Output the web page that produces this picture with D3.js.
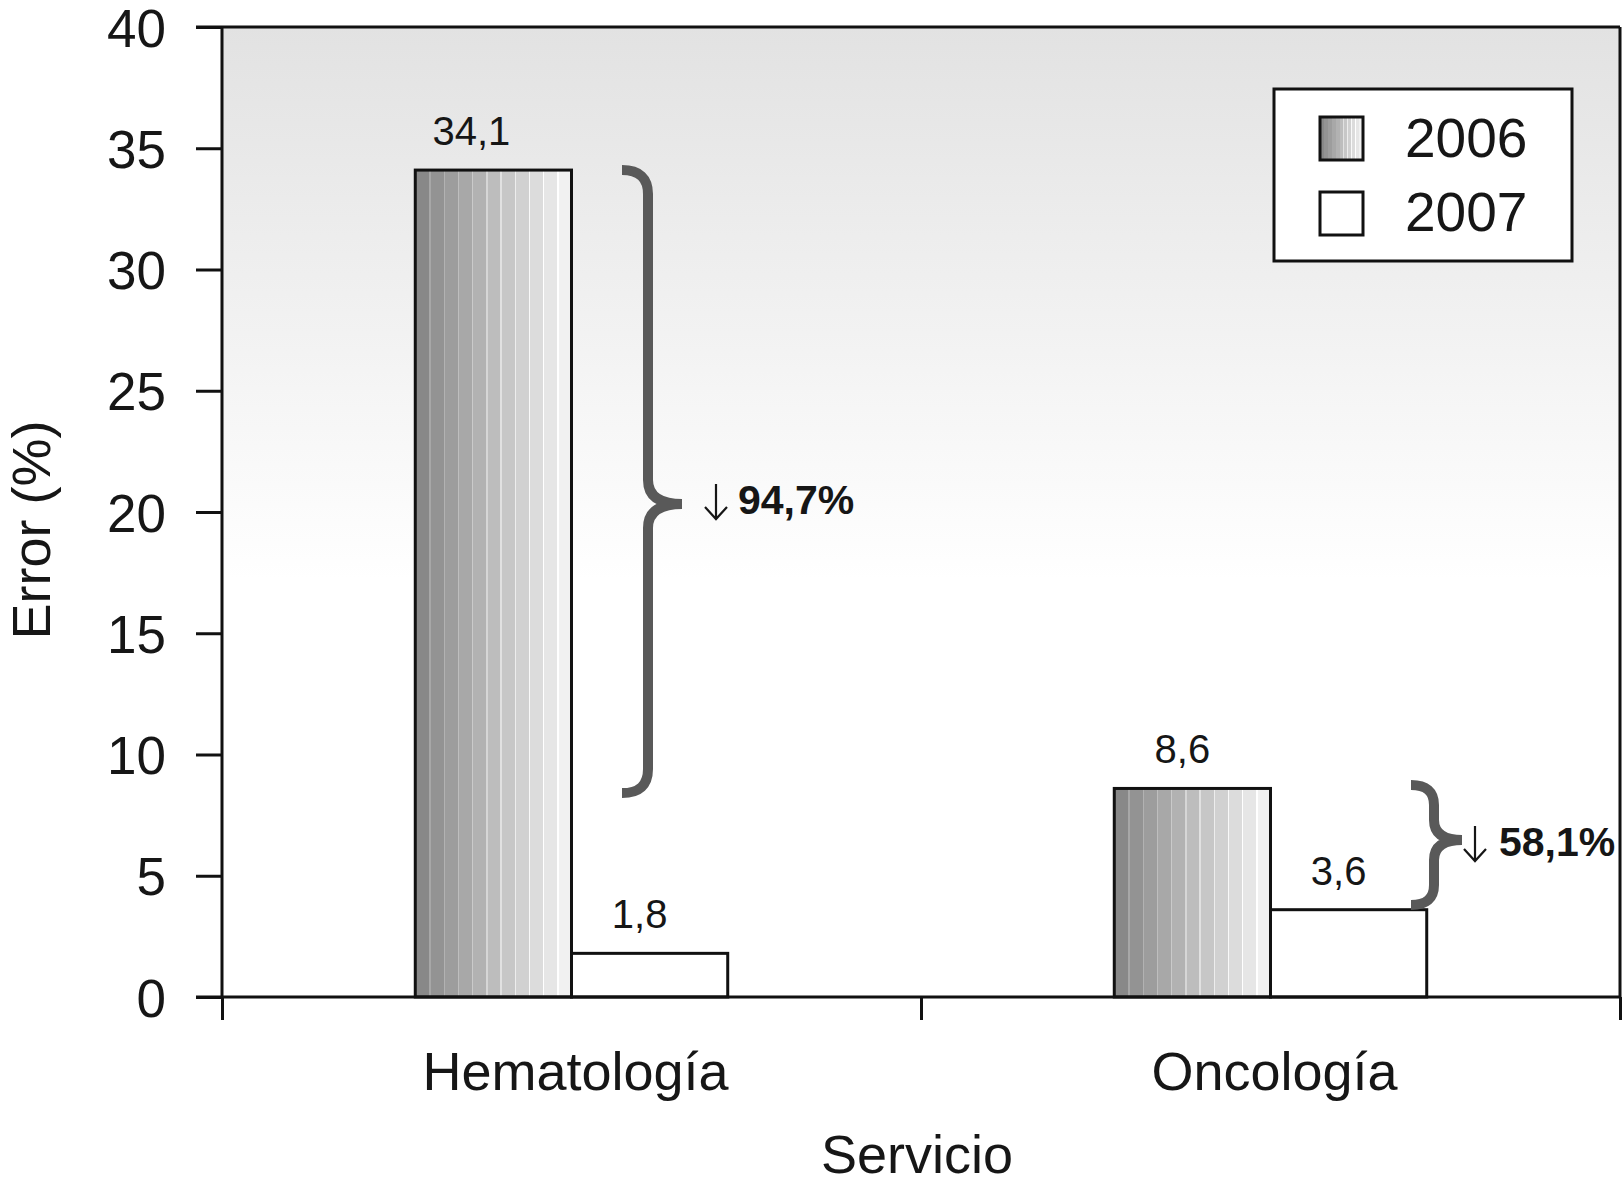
<!DOCTYPE html>
<html>
<head>
<meta charset="utf-8">
<script src="https://cdn.jsdelivr.net/npm/d3@7"></script>
<style>
  html, body { margin: 0; padding: 0; background: #ffffff; }
  svg { display: block; }
  text { font-family: "Liberation Sans", Arial, Helvetica, sans-serif; fill: #161616; }
</style>
</head>
<body>
<svg id="chart" width="1624" height="1192"></svg>
<script>
// ---- data ----
const categories = ["Hematología", "Oncología"];
const years = ["2006", "2007"];
const values2006 = [34.1, 8.6];
const values2007 = [1.8, 3.6];
const yTicks = [0, 5, 10, 15, 20, 25, 30, 35, 40];
const reductionLabels = ["94,7%", "58,1%"];
const braceTopValues = [34.1, 8.74];
const braceBottomValues = [8.41, 3.79];
const braceTipValues = [20.33, 6.47];
const xTitle = "Servicio";
const yTitle = "Error (%)";

// ---- layout ----
const plotLeft = 222, plotRight = 1620, plotTop = 27, plotBottom = 997;
const fmt = d3.formatLocale({decimal: ",", thousands: ".", grouping: [3], currency: ["", "€"]}).format(".1f");

const svg = d3.select("#chart");
const defs = svg.append("defs");

// background gradient
const bg = defs.append("linearGradient").attr("id", "bgGrad")
  .attr("x1", 0).attr("y1", 0).attr("x2", 0).attr("y2", 1);
bg.append("stop").attr("offset", "0").attr("stop-color", "#e2e2e2");
bg.append("stop").attr("offset", "0.57").attr("stop-color", "#ffffff");
bg.append("stop").attr("offset", "1").attr("stop-color", "#ffffff");

// banded bar gradient (dark left -> light right)
const barGrad = defs.append("linearGradient").attr("id", "barGrad")
  .attr("x1", 0).attr("y1", 0).attr("x2", 1).attr("y2", 0);
const nBands = 11;
const shade = d3.interpolateRgb("#838383", "#f6f6f6");
for (let i = 0; i < nBands; i++) {
  const a = i / nBands, b = (i + 1) / nBands;
  const c = shade((i + 0.5) / nBands);
  const lc = d3.color(c).brighter(0.35).formatHex();
  if (i > 0) {
    barGrad.append("stop").attr("offset", a).attr("stop-color", lc);
    barGrad.append("stop").attr("offset", a + 0.008).attr("stop-color", lc);
  }
  barGrad.append("stop").attr("offset", i > 0 ? a + 0.008 : a).attr("stop-color", c);
  barGrad.append("stop").attr("offset", b).attr("stop-color", c);
}

// ---- scales ----
const x = d3.scaleBand().domain(categories).range([plotLeft, plotRight]).paddingInner(0).paddingOuter(0);
const y = d3.scaleLinear().domain([0, 40]).range([plotBottom, plotTop]);
const barW = x.bandwidth() * 0.2235;

// plot background
svg.append("rect").attr("x", plotLeft).attr("y", plotTop)
  .attr("width", plotRight - plotLeft).attr("height", plotBottom - plotTop)
  .attr("fill", "url(#bgGrad)");

// ---- bars ----
const rows = categories.map((c, i) => ({cat: c, v: [values2006[i], values2007[i]]}));
const g = svg.append("g");
rows.forEach((r, i) => {
  const center = x(r.cat) + x.bandwidth() / 2;
  const sub = d3.scaleBand().domain(years).range([center - barW, center + barW]);
  years.forEach((yr, j) => {
    const v = r.v[j];
    g.append("rect")
      .attr("x", sub(yr)).attr("y", y(v))
      .attr("width", sub.bandwidth()).attr("height", y(0) - y(v))
      .attr("fill", j === 0 ? "url(#barGrad)" : "#ffffff")
      .attr("stroke", "#111").attr("stroke-width", 3);
    g.append("text")
      .attr("x", sub(yr) + sub.bandwidth() / 2 - (j === 0 && i === 0 ? 22 : 10))
      .attr("y", y(v) - 25)
      .attr("text-anchor", "middle")
      .attr("font-size", 40)
      .text(fmt(v));
  });
});

// ---- axes ----
const yAxis = d3.axisLeft(y).tickValues(yTicks).tickSize(26).tickPadding(30).tickFormat(d3.format("d"));
const yg = svg.append("g").attr("transform", `translate(${plotLeft},0)`).call(yAxis);
yg.select(".domain").remove();
yg.selectAll(".tick line").attr("stroke", "#111").attr("stroke-width", 3);
yg.selectAll(".tick text").attr("font-size", 53).attr("fill", "#161616")
  .attr("font-family", "Liberation Sans, Arial, sans-serif").attr("dy", "0.36em");

const xb = d3.scaleLinear().domain([0, categories.length]).range([plotLeft, plotRight]);
const xAxis = d3.axisBottom(xb).tickValues(d3.range(categories.length + 1)).tickSize(23).tickFormat("");
const xg = svg.append("g").attr("transform", `translate(0,${plotBottom})`).call(xAxis);
xg.select(".domain").remove();
xg.selectAll(".tick line").attr("stroke", "#111").attr("stroke-width", 3);

// frame lines
const frame = svg.append("g").attr("stroke", "#111").attr("stroke-width", 3).attr("fill", "none");
frame.append("line").attr("x1", plotLeft).attr("x2", plotLeft).attr("y1", plotTop).attr("y2", plotBottom);
frame.append("line").attr("x1", plotLeft - 26).attr("x2", plotRight).attr("y1", plotTop).attr("y2", plotTop);
frame.append("line").attr("x1", plotRight).attr("x2", plotRight).attr("y1", plotTop).attr("y2", plotBottom);
frame.append("line").attr("x1", plotLeft - 26).attr("x2", plotRight).attr("y1", plotBottom).attr("y2", plotBottom);

// category labels
svg.append("g").selectAll("text").data(categories).join("text")
  .attr("x", d => x(d) + x.bandwidth() / 2 + 4)
  .attr("y", 1090)
  .attr("text-anchor", "middle")
  .attr("font-size", 54)
  .text(d => d);

// axis titles
svg.append("text").attr("x", (plotLeft + plotRight) / 2 - 4).attr("y", 1173)
  .attr("text-anchor", "middle").attr("font-size", 54).text(xTitle);
svg.append("text").attr("transform", `translate(50,${530}) rotate(-90)`)
  .attr("text-anchor", "middle").attr("font-size", 54).text(yTitle);

// ---- braces ----
const braceGeom = [
  {xl: 622, xv: 648, xt: 682, r: 24, arrowX: 716, textX: 738, dy: 10},
  {xl: 1411, xv: 1434, xt: 1462, r: 20, arrowX: 1475, textX: 1499, dy: 16}
];
reductionLabels.forEach((lab, i) => {
  const gm = braceGeom[i];
  const yt = y(braceTopValues[i]), yb = y(braceBottomValues[i]), yp = y(braceTipValues[i]);
  const p = d3.path();
  p.moveTo(gm.xl, yt);
  p.quadraticCurveTo(gm.xv, yt, gm.xv, yt + gm.r);
  p.lineTo(gm.xv, yp - gm.r);
  p.quadraticCurveTo(gm.xv, yp, gm.xt, yp);
  p.quadraticCurveTo(gm.xv, yp, gm.xv, yp + gm.r);
  p.lineTo(gm.xv, yb - gm.r);
  p.quadraticCurveTo(gm.xv, yb, gm.xl, yb);
  svg.append("path").attr("d", p.toString())
    .attr("fill", "none").attr("stroke", "#595959").attr("stroke-width", 10);
  const base = yp + gm.dy;
  // thin down arrow
  const ap = d3.path();
  ap.moveTo(gm.arrowX, base - 30);
  ap.lineTo(gm.arrowX, base + 5);
  ap.moveTo(gm.arrowX - 11, base - 7);
  ap.lineTo(gm.arrowX, base + 5);
  ap.lineTo(gm.arrowX + 11, base - 7);
  svg.append("path").attr("d", ap.toString())
    .attr("fill", "none").attr("stroke", "#161616").attr("stroke-width", 2.2);
  svg.append("text").attr("x", gm.textX).attr("y", base)
    .attr("font-size", 41).attr("font-weight", "bold").text(lab);
});

// ---- legend ----
const lg = svg.append("g");
lg.append("rect").attr("x", 1274).attr("y", 89).attr("width", 298).attr("height", 172)
  .attr("fill", "#ffffff").attr("stroke", "#111").attr("stroke-width", 3);
years.forEach((yr, j) => {
  const yy = 117 + j * 75;
  lg.append("rect").attr("x", 1320).attr("y", yy).attr("width", 43).attr("height", 43)
    .attr("fill", j === 0 ? "url(#barGrad)" : "#ffffff").attr("stroke", "#111").attr("stroke-width", 3);
  lg.append("text").attr("x", 1405).attr("y", 157 + j * 74).attr("font-size", 55).text(yr);
});
</script>
</body>
</html>
